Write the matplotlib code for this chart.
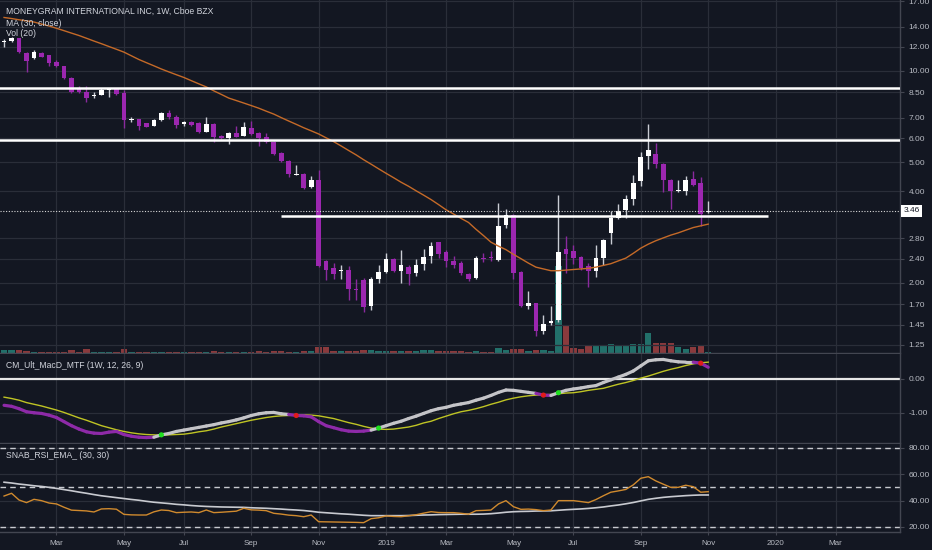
import matplotlib
matplotlib.use("Agg")
import matplotlib.pyplot as plt
import matplotlib.transforms as mtransforms
from matplotlib.collections import LineCollection
from matplotlib.ticker import NullLocator
import numpy as np
import pandas as pd

plt.rcParams['font.family'] = ['Liberation Sans', 'DejaVu Sans']

# weekly bars, the first one is the week of 15 Jan 2018
first_week = "2018-01-15"

opens = [12.45, 12.50, 12.80, 11.43, 11.00, 11.45, 11.28, 10.70, 10.35, 9.50,
         8.72, 8.53, 8.25, 8.32, 8.65, 8.72, 8.45, 6.88, 6.95, 6.72,
         6.58, 6.87, 7.24, 7.06, 6.66, 6.77, 6.74, 6.28, 6.70, 6.10,
         6.01, 6.24, 6.11, 6.47, 6.25, 6.03, 5.83, 5.37, 5.05, 4.53,
         4.56, 4.14, 4.36, 2.36, 2.24, 2.18, 2.20, 1.91, 2.04, 1.68,
         2.06, 2.17, 2.39, 2.19, 2.26, 2.15, 2.30, 2.45, 2.72, 2.52,
         2.36, 2.33, 2.14, 2.07, 2.42, 2.43, 2.37, 3.10, 3.34, 2.17,
         1.68, 1.71, 1.38, 1.47, 1.51, 2.58, 2.55, 2.43, 2.27, 2.19,
         2.42, 2.91, 3.28, 3.47, 3.78, 4.34, 5.24, 5.31, 4.93, 4.36,
         4.00, 4.02, 4.40, 4.28, 3.42]
highs = [12.75, 12.90, 12.85, 11.50, 11.71, 11.50, 11.32, 10.86, 10.38, 9.52,
         8.90, 8.90, 8.50, 8.76, 8.75, 8.76, 8.64, 7.06, 6.96, 6.75,
         6.95, 7.30, 7.42, 7.15, 6.85, 6.82, 6.80, 7.02, 6.72, 6.12,
         6.30, 6.58, 6.77, 6.82, 6.30, 6.24, 5.85, 5.40, 5.07, 4.90,
         4.60, 4.50, 4.71, 2.38, 2.32, 2.28, 2.27, 2.05, 2.07, 2.08,
         2.28, 2.50, 2.41, 2.57, 2.28, 2.40, 2.58, 2.73, 2.73, 2.56,
         2.45, 2.35, 2.16, 2.44, 2.50, 2.54, 3.66, 3.50, 3.36, 2.18,
         1.88, 1.72, 1.57, 1.68, 3.90, 2.85, 2.66, 2.45, 2.33, 2.66,
         2.79, 3.44, 3.64, 3.89, 4.53, 5.39, 6.66, 5.76, 4.95, 4.38,
         4.36, 4.50, 4.67, 4.48, 3.72]
lows = [12.00, 12.45, 11.45, 9.93, 10.97, 11.13, 10.37, 10.30, 9.40, 8.48,
        8.45, 7.91, 8.14, 8.30, 8.17, 8.32, 6.48, 6.80, 6.38, 6.52,
        6.56, 6.85, 6.93, 6.48, 6.60, 6.57, 6.24, 6.26, 5.82, 5.98,
        5.73, 6.03, 6.08, 6.14, 5.64, 5.80, 5.28, 5.00, 4.47, 4.52,
        4.08, 4.12, 2.25, 2.04, 2.05, 2.05, 1.75, 1.75, 1.60, 1.63,
        2.00, 2.15, 2.17, 2.00, 1.96, 2.11, 2.20, 2.32, 2.42, 2.25,
        2.24, 2.12, 2.02, 2.06, 2.34, 2.35, 2.35, 3.04, 2.05, 1.66,
        1.64, 1.33, 1.35, 1.45, 1.48, 2.16, 2.31, 2.21, 1.94, 2.09,
        2.28, 2.68, 3.24, 3.26, 3.62, 4.18, 4.74, 4.79, 3.99, 3.50,
        3.98, 3.90, 4.16, 3.08, 3.39]
closes = [12.50, 12.85, 11.50, 10.80, 11.50, 11.15, 10.60, 10.35, 9.45, 8.53,
          8.53, 8.15, 8.30, 8.67, 8.72, 8.36, 6.87, 6.93, 6.58, 6.55,
          6.87, 7.27, 7.05, 6.63, 6.77, 6.62, 6.26, 6.70, 6.07, 6.00,
          6.23, 6.06, 6.55, 6.17, 6.00, 5.83, 5.30, 5.05, 4.55, 4.57,
          4.10, 4.35, 2.27, 2.21, 2.13, 2.20, 1.90, 1.89, 1.66, 2.05,
          2.17, 2.40, 2.19, 2.28, 2.14, 2.28, 2.43, 2.64, 2.48, 2.36,
          2.28, 2.15, 2.05, 2.42, 2.40, 2.41, 3.07, 3.35, 2.16, 1.68,
          1.71, 1.38, 1.46, 1.50, 2.52, 2.48, 2.41, 2.23, 2.19, 2.41,
          2.77, 3.28, 3.44, 3.78, 4.27, 5.20, 5.47, 4.93, 4.35, 4.00,
          4.03, 4.36, 4.20, 3.38, 3.46]
volume = [3.6, 3.0, 3.6, 2.5, 0.9, 1.1, 1.4, 1.1, 1.4, 3.3,
          1.4, 4.4, 1.4, 0.9, 0.9, 0.9, 4.4, 1.4, 1.4, 1.1,
          1.1, 1.3, 1.1, 1.1, 1.1, 1.3, 1.4, 1.4, 1.7, 1.1,
          1.3, 1.3, 1.4, 1.4, 1.8, 1.4, 2.5, 1.7, 1.4, 1.1,
          1.9, 1.8, 6.3, 6.3, 1.9, 1.9, 2.5, 2.2, 3.6, 3.6,
          2.2, 1.9, 2.5, 2.2, 2.5, 2.2, 3.6, 3.0, 2.2, 1.9,
          1.9, 1.9, 1.4, 1.9, 1.1, 1.1, 5.5, 3.0, 4.4, 4.7,
          2.5, 3.0, 3.6, 1.9, 95.7, 29.7, 5.5, 4.7, 9.1, 8.0,
          7.4, 9.6, 8.8, 7.4, 10.2, 10.2, 22.0, 11.0, 10.7, 11.0,
          6.9, 4.7, 6.3, 8.0, 1.1]
ma30 = [15.00, 14.88, 14.74, 14.62, 14.49, 14.27, 14.06, 13.82, 13.57, 13.32,
        13.08, 12.81, 12.54, 12.29, 12.03, 11.78, 11.53, 11.21, 10.90, 10.64,
        10.39, 10.14, 9.92, 9.71, 9.51, 9.28, 9.06, 8.85, 8.59, 8.36,
        8.13, 7.98, 7.83, 7.68, 7.53, 7.36, 7.20, 7.01, 6.83, 6.66,
        6.49, 6.34, 6.19, 6.01, 5.84, 5.65, 5.46, 5.28, 5.09, 4.92,
        4.75, 4.59, 4.44, 4.29, 4.16, 4.02, 3.89, 3.76, 3.62, 3.48,
        3.37, 3.26, 3.16, 3.00, 2.86, 2.72, 2.64, 2.57, 2.48, 2.40,
        2.32, 2.25, 2.22, 2.19, 2.19, 2.20, 2.21, 2.22, 2.23, 2.25,
        2.28, 2.31, 2.36, 2.41, 2.50, 2.60, 2.68, 2.75, 2.81, 2.87,
        2.92, 2.98, 3.04, 3.08, 3.12]
macd = [-0.78, -0.81, -0.88, -0.97, -1.00, -1.02, -1.07, -1.14, -1.26, -1.38,
        -1.48, -1.56, -1.60, -1.61, -1.57, -1.55, -1.64, -1.69, -1.72, -1.73,
        -1.72, -1.65, -1.61, -1.55, -1.51, -1.47, -1.43, -1.39, -1.35, -1.30,
        -1.26, -1.21, -1.15, -1.08, -1.03, -1.00, -0.99, -1.03, -1.05, -1.08,
        -1.09, -1.12, -1.26, -1.38, -1.44, -1.50, -1.54, -1.55, -1.54, -1.51,
        -1.45, -1.38, -1.31, -1.25, -1.17, -1.10, -1.02, -0.94, -0.88, -0.84,
        -0.78, -0.74, -0.70, -0.63, -0.57, -0.49, -0.40, -0.33, -0.34, -0.37,
        -0.40, -0.43, -0.48, -0.49, -0.41, -0.34, -0.30, -0.27, -0.23, -0.20,
        -0.11, -0.03, 0.05, 0.13, 0.23, 0.38, 0.53, 0.56, 0.57, 0.53,
        0.50, 0.49, 0.49, 0.46, 0.34]
signal = [-0.54, -0.58, -0.63, -0.70, -0.75, -0.80, -0.86, -0.92, -0.99, -1.07,
          -1.15, -1.22, -1.30, -1.38, -1.44, -1.50, -1.55, -1.59, -1.62, -1.64,
          -1.65, -1.66, -1.65, -1.64, -1.63, -1.60, -1.56, -1.53, -1.48, -1.42,
          -1.37, -1.32, -1.27, -1.22, -1.18, -1.14, -1.11, -1.09, -1.08, -1.07,
          -1.06, -1.07, -1.09, -1.13, -1.17, -1.23, -1.29, -1.34, -1.40, -1.45,
          -1.48, -1.49, -1.48, -1.45, -1.42, -1.37, -1.30, -1.25, -1.17, -1.10,
          -1.03, -0.97, -0.93, -0.88, -0.82, -0.75, -0.69, -0.62, -0.57, -0.53,
          -0.50, -0.48, -0.47, -0.46, -0.44, -0.42, -0.41, -0.38, -0.34, -0.31,
          -0.28, -0.22, -0.16, -0.11, -0.05, 0.02, 0.08, 0.15, 0.22, 0.28,
          0.33, 0.39, 0.44, 0.47, 0.49]
rsi = [43.5, 45.6, 40.5, 38.5, 41.0, 40.0, 38.2, 37.5, 35.0, 32.8,
       32.5, 32.2, 31.4, 33.7, 33.9, 33.5, 29.6, 29.2, 29.1, 29.1,
       31.5, 32.9, 32.5, 30.9, 31.2, 31.4, 30.9, 32.9, 30.9, 31.2,
       31.6, 32.0, 34.2, 33.0, 32.8, 32.4, 30.4, 29.8, 29.0, 28.6,
       27.8, 29.1, 24.0, 23.9, 23.8, 23.7, 23.6, 23.5, 23.3, 26.3,
       27.0, 28.4, 28.0, 27.8, 28.5, 29.3, 30.5, 31.6, 31.0, 30.9,
       30.9, 30.4, 29.7, 32.4, 32.6, 32.9, 37.5, 40.0, 35.4, 33.4,
       33.6, 33.2, 32.4, 32.9, 40.0, 40.0, 40.0, 39.3, 38.5, 40.8,
       43.7, 46.4, 47.4, 48.5, 52.0, 57.0, 58.2, 55.0, 52.5, 50.1,
       50.1, 51.7, 50.6, 46.4, 46.8]
rsi_ema = [54.0, 53.4, 52.6, 52.0, 51.3, 50.8, 50.1, 49.3, 48.4, 47.5,
           46.5, 45.6, 44.6, 43.7, 43.0, 42.3, 41.6, 40.9, 40.3, 39.5,
           38.8, 38.3, 37.8, 37.2, 36.8, 36.3, 35.9, 35.6, 35.4, 35.2,
           35.1, 35.0, 34.9, 34.6, 34.4, 34.2, 33.9, 33.6, 33.2, 32.9,
           32.5, 31.9, 31.2, 30.8, 30.4, 30.0, 29.7, 29.3, 28.9, 28.6,
           28.6, 28.6, 28.6, 28.6, 28.7, 28.9, 29.1, 29.2, 29.4, 29.5,
           29.6, 29.7, 29.7, 29.7, 29.8, 30.1, 30.6, 31.2, 31.6, 31.8,
           31.9, 32.1, 32.2, 32.3, 32.7, 33.1, 33.4, 33.7, 34.1, 34.6,
           35.2, 36.0, 36.7, 37.6, 38.6, 39.8, 41.0, 41.8, 42.5, 43.0,
           43.4, 43.8, 44.1, 44.3, 44.3]

# drawn levels
levels = [8.75, 5.90]
support_level = 3.33
support_from, support_to = 37, 102
last_price = closes[-1]

price_ticks = [17, 14, 12, 10, 8.5, 7, 6, 5, 4, 2.8, 2.4, 2, 1.7, 1.45, 1.25]
macd_ticks = [0, -1]
rsi_ticks = [20, 40, 60, 80]
rsi_bands = [80, 50, 20]

bg = '#131722'
grid_col = '#2a2e39'
border_col = '#434651'
text_col = '#d1d4dc'
axis_text = '#b8bbc3'
up_col = '#ffffff'
up_wick = '#c9ccd4'
down_col = '#9c27b0'
down_wick = '#8a2a9e'

n = len(closes)
idx = np.arange(n)
o = np.array(opens)
c = np.array(closes)
h = np.array(highs)
l = np.array(lows)
up = c >= o

dates = pd.date_range(first_week, periods=n + 25, freq='W-MON')
tick_pos, tick_lab = [], []
for i, d in enumerate(dates):
    if d.month % 2 == 1 and d.day <= 7:
        tick_pos.append(i)
        tick_lab.append(str(d.year) if d.month == 1 else d.strftime('%b'))

W, H = 932, 550
fig = plt.figure(figsize=(W / 100, H / 100), dpi=100, facecolor=bg)


def pane(top, bottom, **kw):
    return fig.add_axes([0, 1 - bottom / H, 900 / W, (bottom - top) / H], facecolor=bg, **kw)


ax_v = pane(0, 353)
ax_p = pane(0, 353, sharex=ax_v)
ax_p.patch.set_visible(False)
ax_m = pane(354, 443, sharex=ax_v)
ax_r = pane(444, 532, sharex=ax_v)

# volume behind the candles
vol_cols = np.where(up, '#22706a', '#8a3a3d')
ax_v.bar(idx, volume, width=0.85, color=vol_cols, linewidth=0)
ax_v.set_ylim(0, max(volume) * 4.05)
ax_v.axis('off')

for ax in (ax_p, ax_m, ax_r):
    ax.set_xlim(-0.54, 119.6)
    for s in ('top', 'left'):
        ax.spines[s].set_visible(False)
    for s in ('right', 'bottom'):
        ax.spines[s].set_color(border_col)
        ax.spines[s].set_linewidth(1)
    ax.yaxis.tick_right()
    ax.tick_params(axis='y', colors=border_col, labelcolor=axis_text, labelsize=6, length=3, pad=3)
    ax.tick_params(axis='x', length=0, labelbottom=False)
    ax.set_xticks(tick_pos)
    ax.grid(True, color=grid_col, lw=0.9)
    ax.set_axisbelow(True)

ax_r.set_xticklabels(tick_lab)
ax_r.tick_params(axis='x', labelbottom=True, labelcolor=axis_text, labelsize=5.8,
                 length=2, color=border_col, pad=4)

# price pane
ax_p.set_yscale('log')
ax_p.set_ylim(1.172, 17.13)
ax_p.set_yticks(price_ticks)
ax_p.set_yticklabels([f'{t:.2f}' for t in price_ticks])
ax_p.yaxis.set_minor_locator(NullLocator())

for lv in levels:
    ax_p.axhline(lv, color='white', lw=1.8, zorder=4)
ax_p.hlines(support_level, support_from, support_to, color='white', lw=1.8, zorder=4)
ax_p.axhline(last_price, color='#d8d8d8', lw=0.8, ls=(0, (1, 1.5)), zorder=4)

body_lo = np.minimum(o, c)
body_hi = np.maximum(np.maximum(o, c), body_lo * 1.008)
ax_p.vlines(idx[up], l[up], h[up], color=up_wick, lw=1, zorder=2)
ax_p.vlines(idx[~up], l[~up], h[~up], color=down_wick, lw=1, zorder=2)
ax_p.bar(idx[up], (body_hi - body_lo)[up], bottom=body_lo[up], width=0.62,
         color=up_col, linewidth=0, zorder=3)
ax_p.bar(idx[~up], (body_hi - body_lo)[~up], bottom=body_lo[~up], width=0.62,
         color=down_col, linewidth=0, zorder=3)
ax_p.plot(idx, ma30, color='#c56a28', lw=1, zorder=3)

tr = mtransforms.blended_transform_factory(ax_p.transAxes, ax_p.transData)
ax_p.text(1.004, last_price, '3.46', transform=tr, ha='left', va='center', fontsize=6,
          color='#131722', bbox=dict(boxstyle='square,pad=0.3', fc='white', ec='none'), zorder=6)

# macd pane
m = np.array(macd)
s = np.array(signal)
above = m >= s
ax_m.set_ylim(-1.89, 0.73)
ax_m.set_yticks(macd_ticks)
ax_m.set_yticklabels(['0.00', '-1.00'])
ax_m.axhline(0, color='#e6e6e6', lw=1.6, zorder=2)
ax_m.plot(idx, s, color='#bfc424', lw=1, zorder=3)
pts = np.column_stack([idx, m])
segs = np.stack([pts[:-1], pts[1:]], axis=1)
seg_cols = np.where(above[1:], '#c4c4c8', '#8e2aa8')
ax_m.add_collection(LineCollection(segs, colors=seg_cols, linewidths=2.3,
                                   capstyle='round', zorder=4))
cross = np.nonzero(above[1:] != above[:-1])[0] + 1
ax_m.scatter(cross, m[cross], s=14, zorder=5,
             c=['#1fe01f' if above[i] else '#e01b1b' for i in cross], linewidths=0)

# rsi pane
ax_r.set_ylim(16.2, 83.0)
ax_r.set_yticks(rsi_ticks)
ax_r.set_yticklabels([f'{t:.2f}' for t in rsi_ticks])
for b in rsi_bands:
    ax_r.axhline(b, color='#c8cad0', lw=1, ls=(0, (4, 3)), zorder=2)
ax_r.plot(idx, rsi_ema, color='#c8cad0', lw=1.2, zorder=3)
ax_r.plot(idx, rsi, color='#d08a2e', lw=1, zorder=4)

# pane titles
fs = 6.2
fig.text(6 / W, 1 - 11 / H, 'MONEYGRAM INTERNATIONAL INC, 1W, Cboe BZX', color=text_col,
         fontsize=fs, va='center', ha='left')
fig.text(6 / W, 1 - 23 / H, 'MA (30, close)', color=text_col, fontsize=fs, va='center')
fig.text(6 / W, 1 - 34 / H, 'Vol (20)', color=text_col, fontsize=fs, va='center')
fig.text(6 / W, 1 - 366 / H, 'CM_Ult_MacD_MTF (1W, 12, 26, 9)', color=text_col,
         fontsize=fs, va='center')
fig.text(6 / W, 1 - 455 / H, 'SNAB_RSI_EMA_ (30, 30)', color=text_col, fontsize=fs, va='center')

fig.savefig('out.png', dpi=100, facecolor=bg)
